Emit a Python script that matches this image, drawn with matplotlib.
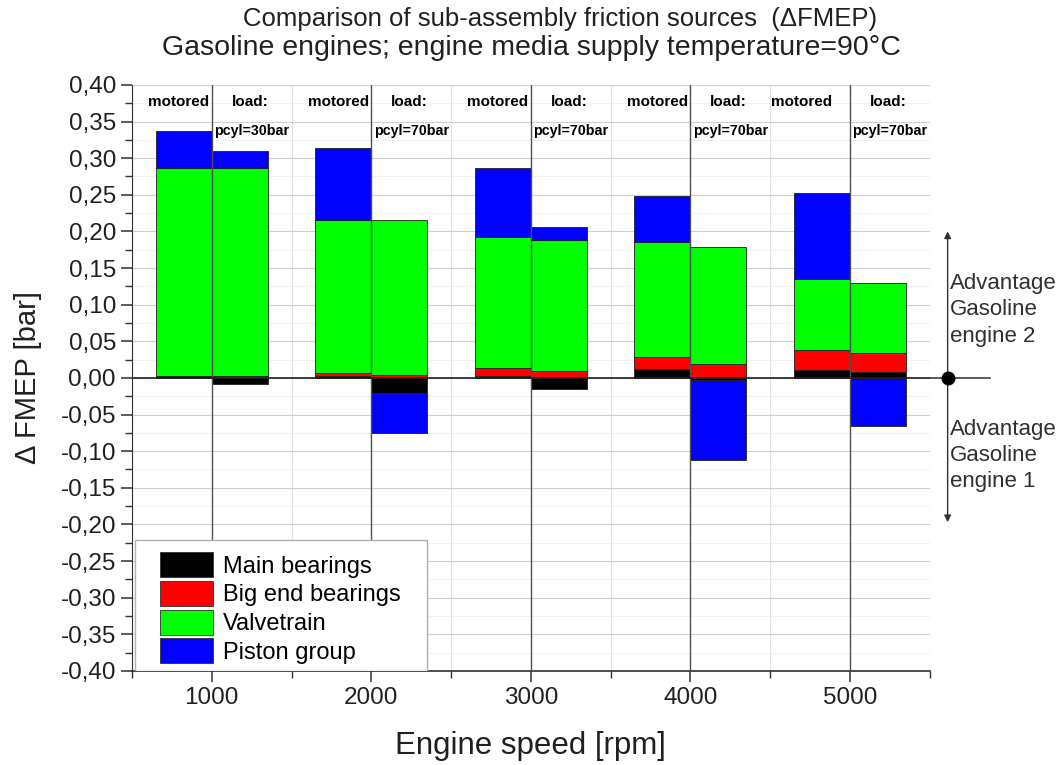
import matplotlib
matplotlib.use("Agg")
import matplotlib.pyplot as plt
from matplotlib.ticker import MultipleLocator, FuncFormatter
from matplotlib.patches import Patch, Rectangle

plt.rcParams['font.family'] = ['Liberation Sans', 'DejaVu Sans']

# --- datos ---
speeds = [1000, 2000, 3000, 4000, 5000]
load_labels = ['pcyl=30bar', 'pcyl=70bar', 'pcyl=70bar', 'pcyl=70bar', 'pcyl=70bar']
components = ['Main bearings', 'Big end bearings', 'Valvetrain', 'Piston group']
colors = ['#000000', '#ff0000', '#00ff00', '#0000ff']

# motored
main_mot = [0.003, 0.002, 0.003, 0.012, 0.011]
bigend_mot = [0.000, 0.005, 0.010, 0.016, 0.027]
valve_mot = [0.283, 0.209, 0.179, 0.158, 0.097]
piston_mot = [0.051, 0.098, 0.094, 0.062, 0.117]

# load
main_load = [-0.008, -0.021, -0.015, -0.003, 0.008]
bigend_load = [0.002, 0.004, 0.010, 0.019, 0.026]
valve_load = [0.284, 0.212, 0.178, 0.160, 0.096]
piston_load = [0.024, -0.054, 0.018, -0.109, -0.066]

BAR_W = 350

fig = plt.figure(figsize=(10.6, 7.65), dpi=100)
ax = fig.add_axes([0.1245, 0.123, 0.7525, 0.766])


def stack(x, vals):
    pos, neg = 0.0, 0.0
    for v, c in zip(vals, colors):
        if v >= 0:
            ax.bar(x, v, BAR_W, bottom=pos, align='edge', color=c,
                   edgecolor='#202020', linewidth=0.6, zorder=2)
            pos += v
        else:
            ax.bar(x, v, BAR_W, bottom=neg, align='edge', color=c,
                   edgecolor='#202020', linewidth=0.6, zorder=2)
            neg += v


mot = list(zip(main_mot, bigend_mot, valve_mot, piston_mot))
lod = list(zip(main_load, bigend_load, valve_load, piston_load))
for i, s in enumerate(speeds):
    stack(s - BAR_W, mot[i])
    stack(s, lod[i])

# ejes y rejilla
ax.set_xlim(500, 5500)
ax.set_ylim(-0.40, 0.40)
ax.xaxis.set_major_locator(MultipleLocator(1000))
ax.xaxis.set_minor_locator(MultipleLocator(500))
ax.yaxis.set_major_locator(MultipleLocator(0.05))
ax.yaxis.set_minor_locator(MultipleLocator(0.025))
ax.yaxis.set_major_formatter(FuncFormatter(lambda v, p: f"{v:.2f}".replace('.', ',')))

ax.grid(True, axis='y', which='major', color='#cfcfcf', lw=0.8, zorder=0)
ax.grid(True, axis='y', which='minor', color='#efefef', lw=0.6, zorder=0)
ax.grid(True, axis='x', which='minor', color='#e2e2e2', lw=0.8, zorder=0)
for s in speeds:
    ax.axvline(s, color='#505050', lw=1.0, zorder=3)
ax.axhline(0, color='#202020', lw=1.2, zorder=3)

for sp in ['top', 'right']:
    ax.spines[sp].set_visible(False)
ax.spines['left'].set_color('#303030')
ax.spines['bottom'].set_color('#303030')
ax.spines['bottom'].set_linewidth(1.2)
ax.tick_params(axis='both', which='major', direction='out', length=8, width=1.1,
               labelsize=17.5, colors='#303030', labelcolor='#202020')
ax.tick_params(axis='both', which='minor', direction='out', length=5, width=1.0,
               colors='#303030')

# etiquetas superiores
mot_offset = [-15, -15, -15, -15, -110]
for i, s in enumerate(speeds):
    ax.text(s + mot_offset[i], 0.3765, 'motored', ha='right', va='center',
            fontsize=11, fontweight='bold', zorder=4)
    ax.text(s + 240, 0.3765, 'load:', ha='center', va='center',
            fontsize=11, fontweight='bold', zorder=4)
    ax.text(s + 15, 0.337, load_labels[i], ha='left', va='center',
            fontsize=10.3, fontweight='bold', zorder=4)

# anotacion derecha
ax.plot([5500, 5880], [0, 0], color='#404040', lw=1.2, clip_on=False, zorder=3)
ax.annotate('', xy=(5613, 0.20), xytext=(5613, -0.197), annotation_clip=False,
            arrowprops=dict(arrowstyle='<|-|>', color='#303030', lw=1.0,
                            mutation_scale=10, shrinkA=0, shrinkB=0))
ax.plot([5613], [0], 'o', color='black', markersize=9, clip_on=False, zorder=5)
ax.text(5630, 0.093, 'Advantage\nGasoline\nengine 2', ha='left', va='center',
        fontsize=16, color='#303030', linespacing=1.34)
ax.text(5630, -0.106, 'Advantage\nGasoline\nengine 1', ha='left', va='center',
        fontsize=16, color='#303030', linespacing=1.34)

# leyenda (marco dibujado aparte)
frame = Rectangle((0.004, 0.0), 0.366, 0.2235, transform=ax.transAxes,
                  facecolor='white', edgecolor='#b0b0b0', lw=1.0, zorder=5)
ax.add_patch(frame)
handles = [Patch(facecolor=c, edgecolor='#303030', linewidth=0.6) for c in colors]
leg = ax.legend(handles, components, loc='lower left', fontsize=17,
                bbox_to_anchor=(0.0351, 0.012),
                handlelength=2.25, handleheight=1.25, handletextpad=0.4,
                labelspacing=0.14, borderpad=0.0, borderaxespad=0.0,
                frameon=False)
leg.set_zorder(6)

ax.set_xlabel('Engine speed [rpm]', fontsize=22.5, color='#202020', labelpad=16)
ax.set_ylabel('Δ FMEP [bar]', fontsize=21, color='#202020', labelpad=13)
fig.text(560 / 1060, 0.975, 'Comparison of sub-assembly friction sources  (ΔFMEP)',
         ha='center', va='center', fontsize=18.5, color='#202020')
fig.text(531 / 1060, 0.937, 'Gasoline engines; engine media supply temperature=90°C',
         ha='center', va='center', fontsize=20.5, color='#202020')

fig.savefig('out.png', dpi=100)
